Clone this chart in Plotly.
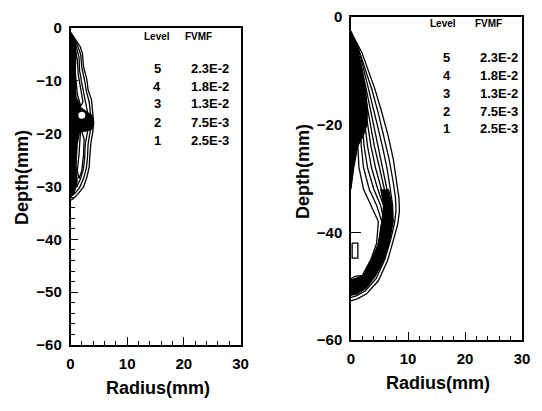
import plotly.graph_objects as go

W, H = 542, 411
PAGE_OFFSET = 8  # default page margin of the html body

# ---------------- legend table data ----------------
levels = [5, 4, 3, 2, 1]
fvmf_left = ["2.3E-2", "1.8E-2", "1.3E-2", "7.5E-3", "2.5E-3"]
fvmf_right = ["2.3E-2", "1.8E-2", "1.3E-2", "7.5E-3", "2.5E-3"]
legend_rows_depth_left = [-7.6, -11.0, -14.2, -17.8, -21.2]
legend_rows_depth_right = [-7.6, -10.8, -14.2, -17.5, -20.8]

# ---------------- left panel contours (radius mm, depth mm) ----------------
left_c1_r = [0, 0.5, 1.7, 2.1, 2.3, 2.9, 3.1, 3.7, 4.0, 4.1, 3.9, 3.6, 3.4, 3.3, 2.9, 2.3, 1.4, 0.5, 0]
left_c1_d = [-0.8, -1.6, -3.5, -4.8, -7.3, -9.8, -11.7, -13.6, -16.2, -18.0, -19.9, -21.8, -24.4, -26.3, -28.2, -30.1, -31.3, -32.3, -32.6]
left_c2_r = [0, 1.2, 1.8, 2.0, 2.5, 2.8, 3.3, 3.6, 3.7, 3.4, 3.1, 3.0, 2.8, 2.3, 1.6, 0.8, 0]
left_c2_d = [-1.2, -3.2, -5, -7.5, -10, -12, -14, -16.5, -18, -20, -22, -24.5, -26.5, -28.5, -30.2, -31.3, -31.8]
left_c3_r = [0, 1.0, 1.5, 1.6, 2.0, 2.4, 2.8, 3.1, 3.3, 3.0, 2.6, 2.5, 2.3, 1.8, 1.1, 0]
left_c3_d = [-1.5, -3.5, -5.5, -8, -10.5, -12.5, -14.5, -16.5, -18, -20, -22, -24.5, -26.5, -28.5, -30, -31]
left_c4_r = [0.8, 1.2, 1.4, 1.8, 2.2, 1.8, 1.2, 0.9, 0.7, 0.8]
left_c4_d = [-4, -6, -9, -12, -14, -14.8, -12.5, -9, -6, -4]
left_c5_r = [1.8, 2.4, 2.3, 2.0, 1.5, 1.2, 1.5, 1.6, 1.8]
left_c5_d = [-19, -21, -24, -27, -28.5, -27, -24, -21, -19]
left_core_r = [0, 0.9, 1.0, 0.8, 1.0, 1.8, 2.8, 3.8, 4.1, 3.8, 2.8, 1.6, 1.2, 1.0, 1.2, 0.6, 0]
left_core_d = [-0.8, -2.5, -5, -9, -13, -15, -15.8, -16.5, -17.8, -19.2, -19.5, -19.8, -22, -26, -29, -31.5, -32]
left_dot_r = [2.0]
left_dot_d = [-16.5]

# ---------------- right panel contours ----------------
right_c1_r = [0, 0.4, 1.9, 3.0, 4.2, 5.4, 6.5, 7.4, 8.0, 8.4, 8.5, 8.2, 7.4, 6.4, 4.8, 2.75, 1.0, 0]
right_c1_d = [-2.6, -3.6, -6.6, -9.7, -13.4, -17.7, -22, -26.3, -30.6, -33.5, -36, -38.5, -41.6, -45.3, -49, -51.4, -52.4, -52.7]
right_c2_r = [0, 0.5, 1.6, 2.6, 3.7, 4.8, 5.8, 6.7, 7.4, 7.8, 7.9, 7.6, 6.9, 5.9, 4.4, 2.5, 0.9, 0]
right_c2_d = [-3.0, -4.0, -6.8, -9.9, -13.6, -17.9, -22.2, -26.5, -30.6, -33.5, -36, -38.5, -41.6, -45.1, -48.6, -50.9, -51.8, -52.1]
inner_d = [-5, -10, -15, -20, -24, -28, -32, -35, -38, -42, -45, -48]
right_c3_r = [1.1, 2.3, 3.5, 4.6, 5.5, 6.3, 6.9, 7.3, 7.4, 6.6, 5.6, 4.0]
right_c4_r = [0.9, 2.0, 3.0, 4.0, 4.8, 5.6, 6.4, 6.9, 7.0, 6.3, 5.3, 3.7]
right_c5_r = [0.8, 1.7, 2.6, 3.4, 4.1, 5.0, 5.9, 6.5, 6.7, 6.0, 5.0, 3.4]
right_c6_r = [0.6, 1.5, 2.2, 2.9, 3.5, 4.3, 5.3, 6.1, 6.4, 5.7, 4.7, 3.1]
right_c7_r = [0.5, 1.3, 1.9, 2.4, 2.9, 3.6, 4.7, 5.7, 6.1, 5.4, 4.4, 2.9]
right_c8_r = [0.4, 1.1, 1.6, 2.0, 2.3, 2.9, 4.0, 5.2, 5.8, 5.1, 4.1, 2.6]
right_c9_r = [0.3, 0.9, 1.3, 1.6, 1.8, 2.2, 3.2, 4.5, 5.4, 4.8, 3.8, 2.3]
right_c10_r = [0.15, 0.7, 1.0, 1.2, 1.2, 1.4, 2.2, 3.5, 4.8, 4.5, 3.5, 2.0]
inner_top_d = [-3.3, -3.5, -3.7, -3.9, -4.1, -4.3, -4.5, -4.7]
inner_bot_d = [-51.5, -51.0, -50.6, -50.2, -49.8, -49.4, -49.0, -48.6]
inner_near_bot_r = [1.2, 1.2, 1.1, 1.0, 1.0, 0.9, 0.8, 0.7]
right_upper_fill_r = [0, 1.0, 1.8, 2.5, 2.9, 2.8, 2.2, 1.2, 0.5, 0]
right_upper_fill_d = [-3, -5.5, -9, -13, -17, -20, -22, -24, -28, -32]
right_band_r = [6.6, 7.2, 7.3, 6.8, 5.8, 4.2, 2.6, 1.0, 0, 0, 0.8, 2.2, 3.6, 4.9, 5.4, 5.7, 5.2]
right_band_d = [-32, -35, -38, -41.8, -45.1, -48.3, -50.5, -51.5, -51.7, -48.8, -48.6, -48, -45, -42, -38, -35, -32]
right_box_r = [0.2, 1.2, 1.2, 0.2, 0.2]
right_box_d = [-42, -42, -44.8, -44.8, -42]

LW = 1.3
fig = go.Figure()


def line(r, d, xa, ya):
    fig.add_trace(go.Scatter(x=r, y=d, mode="lines", xaxis=xa, yaxis=ya,
                             line=dict(color="black", width=LW), hoverinfo="skip"))


def fill(r, d, xa, ya):
    fig.add_trace(go.Scatter(x=r, y=d, mode="lines", xaxis=xa, yaxis=ya, fill="toself",
                             fillcolor="black", line=dict(color="black", width=1), hoverinfo="skip"))


# left panel
fill(left_core_r, left_core_d, "x", "y")
for r, d in [(left_c1_r, left_c1_d), (left_c2_r, left_c2_d), (left_c3_r, left_c3_d),
             (left_c4_r, left_c4_d), (left_c5_r, left_c5_d)]:
    line(r, d, "x", "y")
fig.add_trace(go.Scatter(x=left_dot_r, y=left_dot_d, mode="markers", xaxis="x", yaxis="y",
                         marker=dict(color="white", size=7), hoverinfo="skip"))

# right panel
fill(right_upper_fill_r, right_upper_fill_d, "x2", "y2")
fill(right_band_r, right_band_d, "x2", "y2")
line(right_c1_r, right_c1_d, "x2", "y2")
line(right_c2_r, right_c2_d, "x2", "y2")
inner = [right_c3_r, right_c4_r, right_c5_r, right_c6_r, right_c7_r, right_c8_r, right_c9_r, right_c10_r]
for i, rr in enumerate(inner):
    r = [0] + rr + [inner_near_bot_r[i], 0]
    d = [inner_top_d[i]] + inner_d + [inner_bot_d[i] + 0.4, inner_bot_d[i]]
    line(r, d, "x2", "y2")
line(right_box_r, right_box_d, "x2", "y2")

# invisible anchors so the minor-tick overlay axes are drawn
for xa, ya in [("x3", "y"), ("x", "y3"), ("x4", "y2")]:
    fig.add_trace(go.Scatter(x=[0], y=[-60], mode="markers", xaxis=xa, yaxis=ya,
                             marker=dict(opacity=0), hoverinfo="skip"))

# ---------------- axes ----------------
font_tick = dict(family="Liberation Sans, Arial, sans-serif", size=15, color="black", weight="bold")


def px2paper_x(px):
    return (px - PAGE_OFFSET) / W


def px2paper_y(py):
    return 1 - (py - PAGE_OFFSET) / H


common_x = dict(range=[0, 30], tickmode="linear", tick0=0, dtick=10, ticks="inside", ticklen=8,
                tickwidth=1.2, tickcolor="black", showline=True, linecolor="black", linewidth=1.5,
                mirror=True, showgrid=False, zeroline=False, tickfont=font_tick, ticklabelstandoff=4,
                automargin=False, ticklabeloverflow="allow")
minor_x = dict(range=[0, 30], tickmode="linear", tick0=0, dtick=2, ticks="inside", ticklen=4,
               tickwidth=1.2, tickcolor="black", showline=False, showgrid=False, zeroline=False,
               showticklabels=False, automargin=False)
minor_y = dict(range=[-60, 0], tickmode="linear", tick0=0, dtick=2, ticks="inside", ticklen=4,
               tickwidth=1.2, tickcolor="black", showline=False, showgrid=False, zeroline=False,
               showticklabels=False, automargin=False)
fig.update_layout(
    width=W, height=H, margin=dict(l=0, r=0, t=0, b=0, pad=0, autoexpand=False),
    paper_bgcolor="white", plot_bgcolor="white", showlegend=False,
    xaxis=dict(common_x, domain=[px2paper_x(70.5), px2paper_x(240.5)], anchor="y"),
    yaxis=dict(range=[-60, 0], tickmode="linear", tick0=0, dtick=10, ticks="inside",
               ticklen=8, tickwidth=1.2, tickcolor="black", showline=True, linecolor="black",
               linewidth=1.5, mirror=True, showgrid=False, zeroline=False, tickfont=font_tick,
               ticklabelstandoff=4, automargin=False, ticklabeloverflow="allow",
               domain=[px2paper_y(345), px2paper_y(28)], anchor="x"),
    xaxis2=dict(common_x, domain=[px2paper_x(351), px2paper_x(522)], anchor="y2"),
    yaxis2=dict(range=[-60, 0], tickmode="linear", tick0=0, dtick=20, ticks="inside",
                ticklen=10, tickwidth=1.2, tickcolor="black", showline=True, linecolor="black",
                linewidth=1.5, mirror=True, showgrid=False, zeroline=False, tickfont=font_tick,
                ticklabelstandoff=4, automargin=False, ticklabeloverflow="allow",
                domain=[px2paper_y(340), px2paper_y(17)], anchor="x2"),
    xaxis3=dict(minor_x, overlaying="x", anchor="y"),
    yaxis3=dict(minor_y, overlaying="y", anchor="x"),
    xaxis4=dict(minor_x, overlaying="x2", anchor="y2"),
)

# ---------------- annotations ----------------
title_font = dict(family="Liberation Sans, Arial, sans-serif", size=18, color="black", weight="bold")
for (x, y) in [(22, 178), (303, 172)]:
    fig.add_annotation(text="Depth(mm)", x=px2paper_x(x), y=px2paper_y(y), xref="paper", yref="paper",
                       textangle=-90, showarrow=False, font=title_font, xanchor="center", yanchor="middle")
for (x, y) in [(158, 388), (438, 383)]:
    fig.add_annotation(text="Radius(mm)", x=px2paper_x(x), y=px2paper_y(y), xref="paper", yref="paper",
                       showarrow=False, font=title_font, xanchor="center", yanchor="middle")

head_font = dict(family="Liberation Sans, Arial, sans-serif", size=10, color="black", weight="bold")
row_font = dict(family="Liberation Sans, Arial, sans-serif", size=13, color="black", weight="bold")


def legend_table(xa, ya, lvl_x, fv_x, lvlnum_x, val_x, head_d, rows_d, vals):
    fig.add_annotation(text="Level", x=lvl_x, y=head_d, xref=xa, yref=ya, showarrow=False,
                       font=head_font, xanchor="center", yanchor="middle")
    fig.add_annotation(text="FVMF", x=fv_x, y=head_d, xref=xa, yref=ya, showarrow=False,
                       font=head_font, xanchor="center", yanchor="middle")
    for lv, d, v in zip(levels, rows_d, vals):
        fig.add_annotation(text=str(lv), x=lvlnum_x, y=d, xref=xa, yref=ya, showarrow=False,
                           font=row_font, xanchor="center", yanchor="middle")
        fig.add_annotation(text=v, x=val_x, y=d, xref=xa, yref=ya, showarrow=False,
                           font=row_font, xanchor="right", yanchor="middle")


legend_table("x", "y", 15.3, 22.5, 15.3, 28.4, -1.7, legend_rows_depth_left, fvmf_left)
legend_table("x2", "y2", 16.2, 24.1, 16.8, 29.6, -1.2, legend_rows_depth_right, fvmf_right)

fig.write_html("out.html")
